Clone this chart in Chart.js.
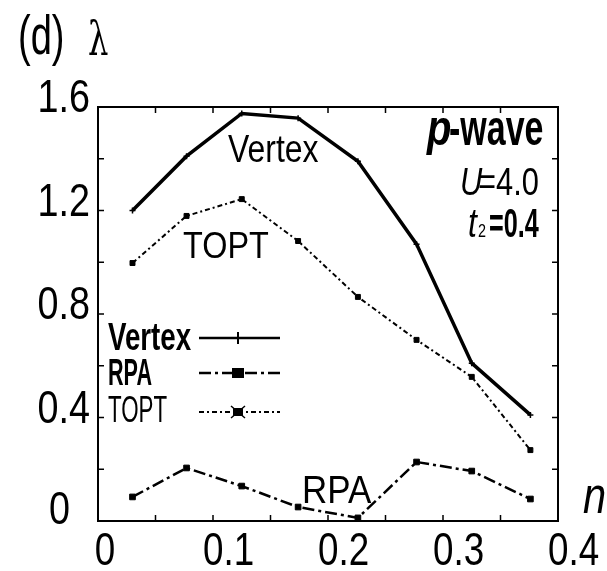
<!DOCTYPE html>
<html>
<head>
<meta charset="utf-8">
<script src="https://cdn.jsdelivr.net/npm/chart.js@4.4.1/dist/chart.umd.min.js"></script>
<style>
  html, body { margin: 0; padding: 0; background: #fff; }
  #wrap { width: 607px; height: 571px; }
</style>
</head>
<body>
<div id="wrap"><canvas id="chart" width="607" height="571"></canvas></div>
<script>
// filling n
const nValues = [0.03, 0.077, 0.125, 0.174, 0.226, 0.277, 0.325, 0.376];
// eigenvalue lambda for each approximation
const vertexValues = [1.20, 1.41, 1.575, 1.557, 1.39, 1.07, 0.61, 0.41];
const toptValues = [0.997, 1.179, 1.244, 1.082, 0.866, 0.70, 0.557, 0.274];
const rpaValues = [0.093, 0.205, 0.135, 0.054, 0.012, 0.228, 0.193, 0.085];
const xTicks = [0, 0.1, 0.2, 0.3, 0.4];
const yTicks = [0, 0.4, 0.8, 1.2, 1.6];

const SANS = "'Liberation Sans', Arial, sans-serif";

function pts(ys) {
    return nValues.map((n, i) => ({ x: n, y: ys[i] }));
}

function fmt(v) {
    return v === 0 ? '0' : v.toFixed(1);
}

// text squeezed horizontally, the original lettering is very condensed
function squeezed(ctx, str, x, y, font, sx, align) {
    ctx.save();
    ctx.font = font;
    ctx.textAlign = align || 'left';
    ctx.textBaseline = 'alphabetic';
    ctx.translate(x, y);
    ctx.scale(sx, 1);
    ctx.fillText(str, 0, 0);
    ctx.restore();
}

// frame with inward ticks on all four sides
const framePlugin = {
    id: 'frame',
    afterDraw(chart) {
        const ctx = chart.ctx;
        const a = chart.chartArea;
        const xs = chart.scales.x, ys = chart.scales.y;
        ctx.save();
        ctx.strokeStyle = '#000';
        ctx.lineWidth = 2;
        ctx.strokeRect(a.left, a.top, a.right - a.left, a.bottom - a.top);
        ctx.lineWidth = 1.5;
        ctx.beginPath();
        for (let k = 1; k < 8; k++) {
            const px = xs.getPixelForValue(k * 0.05);
            ctx.moveTo(px, a.bottom); ctx.lineTo(px, a.bottom - 6);
            ctx.moveTo(px, a.top); ctx.lineTo(px, a.top + 6);
        }
        for (let k = 1; k < 8; k++) {
            const py = ys.getPixelForValue(k * 0.2);
            ctx.moveTo(a.left, py); ctx.lineTo(a.left + 6, py);
            ctx.moveTo(a.right, py); ctx.lineTo(a.right - 6, py);
        }
        ctx.stroke();
        ctx.restore();
    }
};

// tick labels, legend and annotations
const textPlugin = {
    id: 'texts',
    afterDraw(chart) {
        const ctx = chart.ctx;
        const xs = chart.scales.x, ys = chart.scales.y;
        ctx.save();
        ctx.fillStyle = '#000';
        ctx.strokeStyle = '#000';

        const tickFont = '46px ' + SANS;
        xTicks.forEach(v => {
            const px = xs.getPixelForValue(v);
            if (v === 0) squeezed(ctx, '0', px + 7, 565, tickFont, 0.8, 'center');
            else squeezed(ctx, fmt(v), px - 10, 565, tickFont, 0.8, 'left');
        });
        yTicks.forEach(v => {
            const py = ys.getPixelForValue(v);
            if (v === 0) squeezed(ctx, '0', 70, py + 3, tickFont, 0.82, 'right');
            else squeezed(ctx, fmt(v), 90, py + 5, tickFont, 0.82, 'right');
        });

        squeezed(ctx, '(d)', 18, 54, '56px ' + SANS, 0.68, 'left');
        squeezed(ctx, '\u03bb', 88, 55, '46px "DejaVu Serif", serif', 0.7, 'left');
        squeezed(ctx, 'n', 583, 513, 'italic 52px ' + SANS, 0.8, 'left');

        squeezed(ctx, 'Vertex', 228, 162, '38px ' + SANS, 0.84, 'left');
        squeezed(ctx, 'TOPT', 183, 258, '36px ' + SANS, 0.9, 'left');
        squeezed(ctx, 'RPA', 302, 503, '38px ' + SANS, 0.92, 'left');

        // parameters box text
        squeezed(ctx, 'p', 427, 145, 'italic bold 50px ' + SANS, 0.8, 'left');
        squeezed(ctx, '-wave', 449, 145, 'bold 50px ' + SANS, 0.68, 'left');
        squeezed(ctx, 'U', 460, 195, 'italic 39px ' + SANS, 0.79, 'left');
        squeezed(ctx, '=4.0', 478, 195, '39px ' + SANS, 0.79, 'left');
        squeezed(ctx, 't', 468, 237, 'italic 40px ' + SANS, 0.8, 'left');
        squeezed(ctx, '2', 478, 237, '18px ' + SANS, 0.8, 'left');
        squeezed(ctx, '=0.4', 489, 237, 'bold 40px ' + SANS, 0.63, 'left');

        // legend
        const rows = [
            { name: 'Vertex', base: 350, font: 'bold 39px ' + SANS, sx: 0.71, y: 338, dash: [], w: 2.5, marker: 'cross' },
            { name: 'RPA', base: 385, font: 'bold 36px ' + SANS, sx: 0.6, y: 373, dash: [12, 4, 3, 4], w: 2.5, marker: 'rect' },
            { name: 'TOPT', base: 422, font: '36px ' + SANS, sx: 0.62, y: 412, dash: [5, 3, 2, 3], w: 2, marker: 'star' }
        ];
        rows.forEach(r => {
            squeezed(ctx, r.name, 108, r.base, r.font, r.sx, 'left');
            ctx.beginPath();
            ctx.setLineDash(r.dash);
            ctx.lineWidth = r.w;
            ctx.moveTo(199, r.y); ctx.lineTo(280, r.y);
            ctx.stroke();
            ctx.setLineDash([]);
            if (r.marker === 'cross') {
                ctx.lineWidth = 2;
                ctx.beginPath();
                ctx.moveTo(238, r.y - 6); ctx.lineTo(238, r.y + 6);
                ctx.stroke();
            } else if (r.marker === 'rect') {
                ctx.fillRect(232, r.y - 5, 12, 10);
            } else {
                ctx.fillRect(233, r.y - 4, 10, 8);
                ctx.lineWidth = 1.5;
                ctx.beginPath();
                ctx.moveTo(231, r.y - 6); ctx.lineTo(245, r.y + 6);
                ctx.moveTo(245, r.y - 6); ctx.lineTo(231, r.y + 6);
                ctx.stroke();
            }
        });
        ctx.restore();
    }
};

const ctx = document.getElementById('chart').getContext('2d');
const lambdaChart = new Chart(ctx, {
    type: 'scatter',
    data: {
        datasets: [{
            label: 'Vertex',
            data: pts(vertexValues),
            showLine: true,
            borderColor: '#000',
            backgroundColor: '#000',
            borderWidth: 3.5,
            pointStyle: 'cross',
            pointRadius: 3,
            pointBorderWidth: 1.5
        }, {
            label: 'TOPT',
            data: pts(toptValues),
            showLine: true,
            borderColor: '#000',
            backgroundColor: '#000',
            borderWidth: 2,
            borderDash: [5, 3, 2, 3],
            pointStyle: 'rect',
            pointRadius: 3.5,
            pointBorderWidth: 1
        }, {
            label: 'RPA',
            data: pts(rpaValues),
            showLine: true,
            borderColor: '#000',
            backgroundColor: '#000',
            borderWidth: 2.5,
            borderDash: [12, 4, 3, 4],
            pointStyle: 'rect',
            pointRadius: 4,
            pointBorderWidth: 1
        }]
    },
    options: {
        responsive: false,
        animation: false,
        layout: { padding: { top: 107, right: 49, left: 0, bottom: 0 } },
        plugins: {
            legend: { display: false },
            tooltip: { enabled: false }
        },
        scales: {
            x: {
                type: 'linear',
                min: 0,
                max: 0.4,
                afterBuildTicks: s => { s.ticks = xTicks.map(v => ({ value: v })); },
                afterFit: s => { s.height = 50; },
                grid: { display: false, drawTicks: false },
                border: { display: false },
                ticks: { display: false }
            },
            y: {
                type: 'linear',
                min: 0,
                max: 1.6,
                afterBuildTicks: s => { s.ticks = yTicks.map(v => ({ value: v })); },
                afterFit: s => { s.width = 98; },
                grid: { display: false, drawTicks: false },
                border: { display: false },
                ticks: { display: false }
            }
        }
    },
    plugins: [framePlugin, textPlugin]
});
</script>
</body>
</html>
